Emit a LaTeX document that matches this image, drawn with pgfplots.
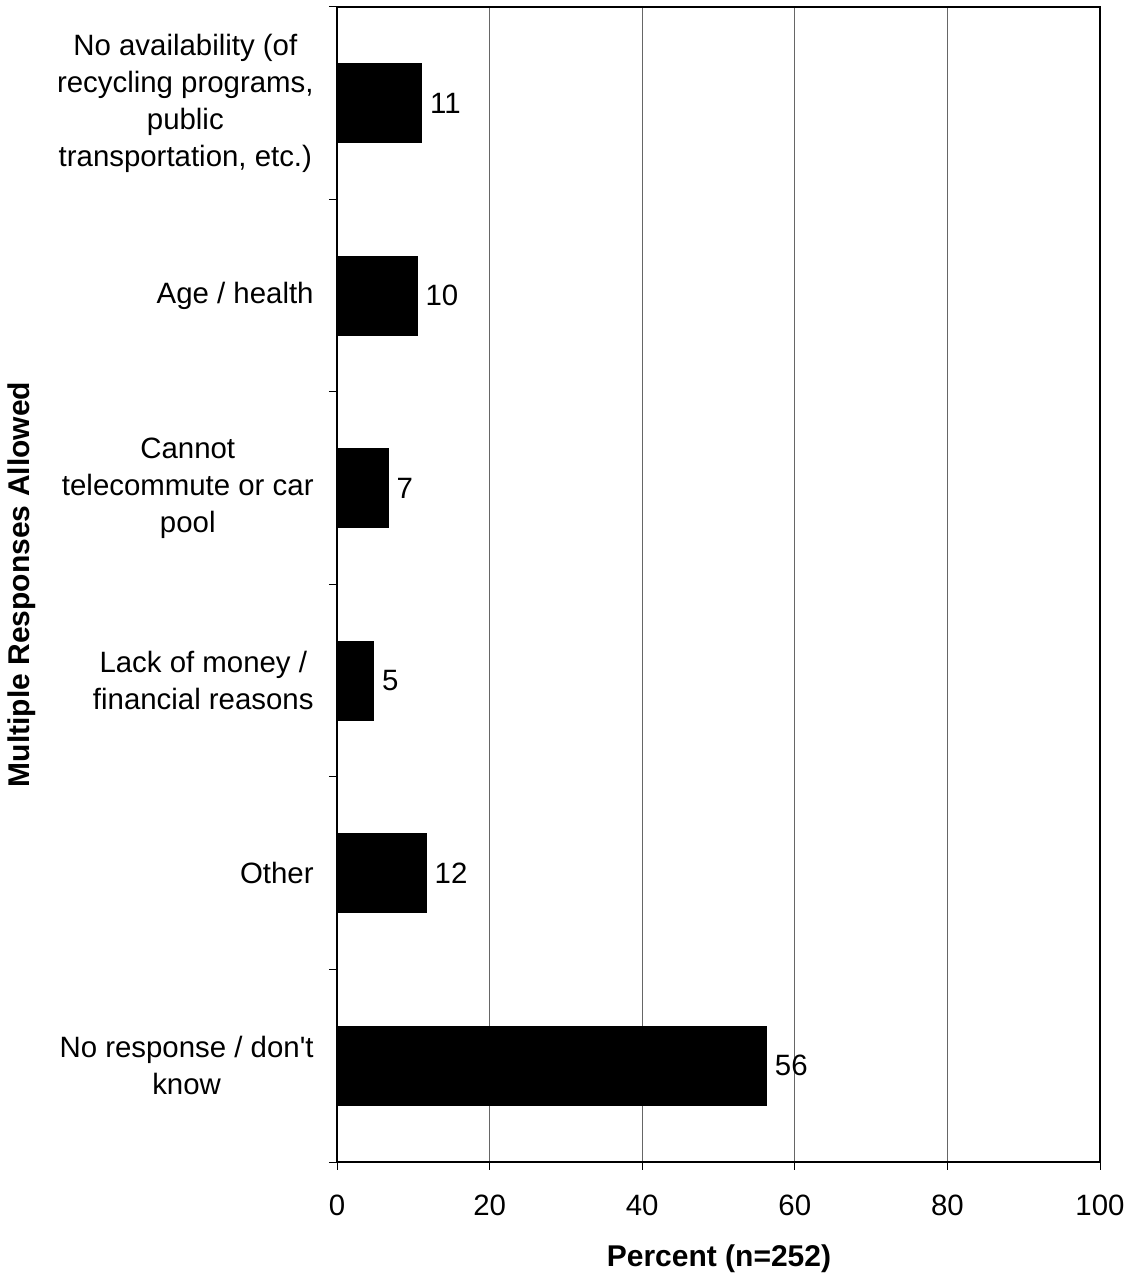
\documentclass[border=0pt]{standalone}
\usepackage{fontspec}
\setmainfont{Liberation Sans}[Ligatures=TeXOff]
\usepackage{pgfplots}
\pgfplotsset{compat=1.18}
\begin{document}
\begin{tikzpicture}
\useasboundingbox (0,0) rectangle (566pt,637.5pt);
\begin{axis}[
  at={(168.5pt,56.5pt)}, anchor=south west,
  scale only axis,
  width=381.5pt, height=577.5pt,
  xbar, bar width=39.5pt,
  xmin=0, xmax=100,
  ymin=-0.5, ymax=5.5,
  xtick={0,20,...,100},
  ytick={-0.5,0.5,...,5.5},
  yticklabels={},
  extra y ticks={0,1,2,3,4,5},
  extra y tick labels={{No response / don't\\know},{Other},{Lack of money /\\financial reasons},{Cannot\\telecommute or car\\pool},{Age / health},{No availability (of\\recycling programs,\\public\\transportation, etc.)}},
  extra y tick style={tick style={draw=none}, grid=none},
  major tick length=4pt,
  tick align=outside,
  xtick pos=bottom, ytick pos=left,
  xmajorgrids,
  grid style={gray!80!black, line width=0.5pt},
  axis line style={black, line width=1pt},
  tick style={black, line width=0.5pt},
  /pgf/number format/assume math mode=true,
  ticklabel style={font=\fontsize{14.7}{18.5}\selectfont},
  yticklabel style={align=center, inner sep=0pt, xshift=-7.5pt},
  xticklabel style={inner sep=0pt, yshift=-12.5pt},
  xlabel={Percent (n=252)},
  ylabel={Multiple Responses Allowed},
  label style={font=\fontsize{15}{18}\selectfont\bfseries},
  xlabel style={at={(rel axis cs:0,0)}, anchor=center, xshift=191pt, yshift=-48.5pt},
  ylabel style={at={(rel axis cs:0,0.5)}, anchor=center, yshift=157.5pt},
  nodes near coords,
  point meta=explicit symbolic,
  nodes near coords style={anchor=west, inner sep=0pt, xshift=4pt, font=\fontsize{14.7}{18.5}\selectfont, black},
]
\addplot[fill=black, draw=black] coordinates {
  (56.3,0) [56]
  (11.7,1) [12]
  (4.8,2) [5]
  (6.7,3) [7]
  (10.5,4) [10]
  (11.1,5) [11]
};
\end{axis}
\end{tikzpicture}
\end{document}
